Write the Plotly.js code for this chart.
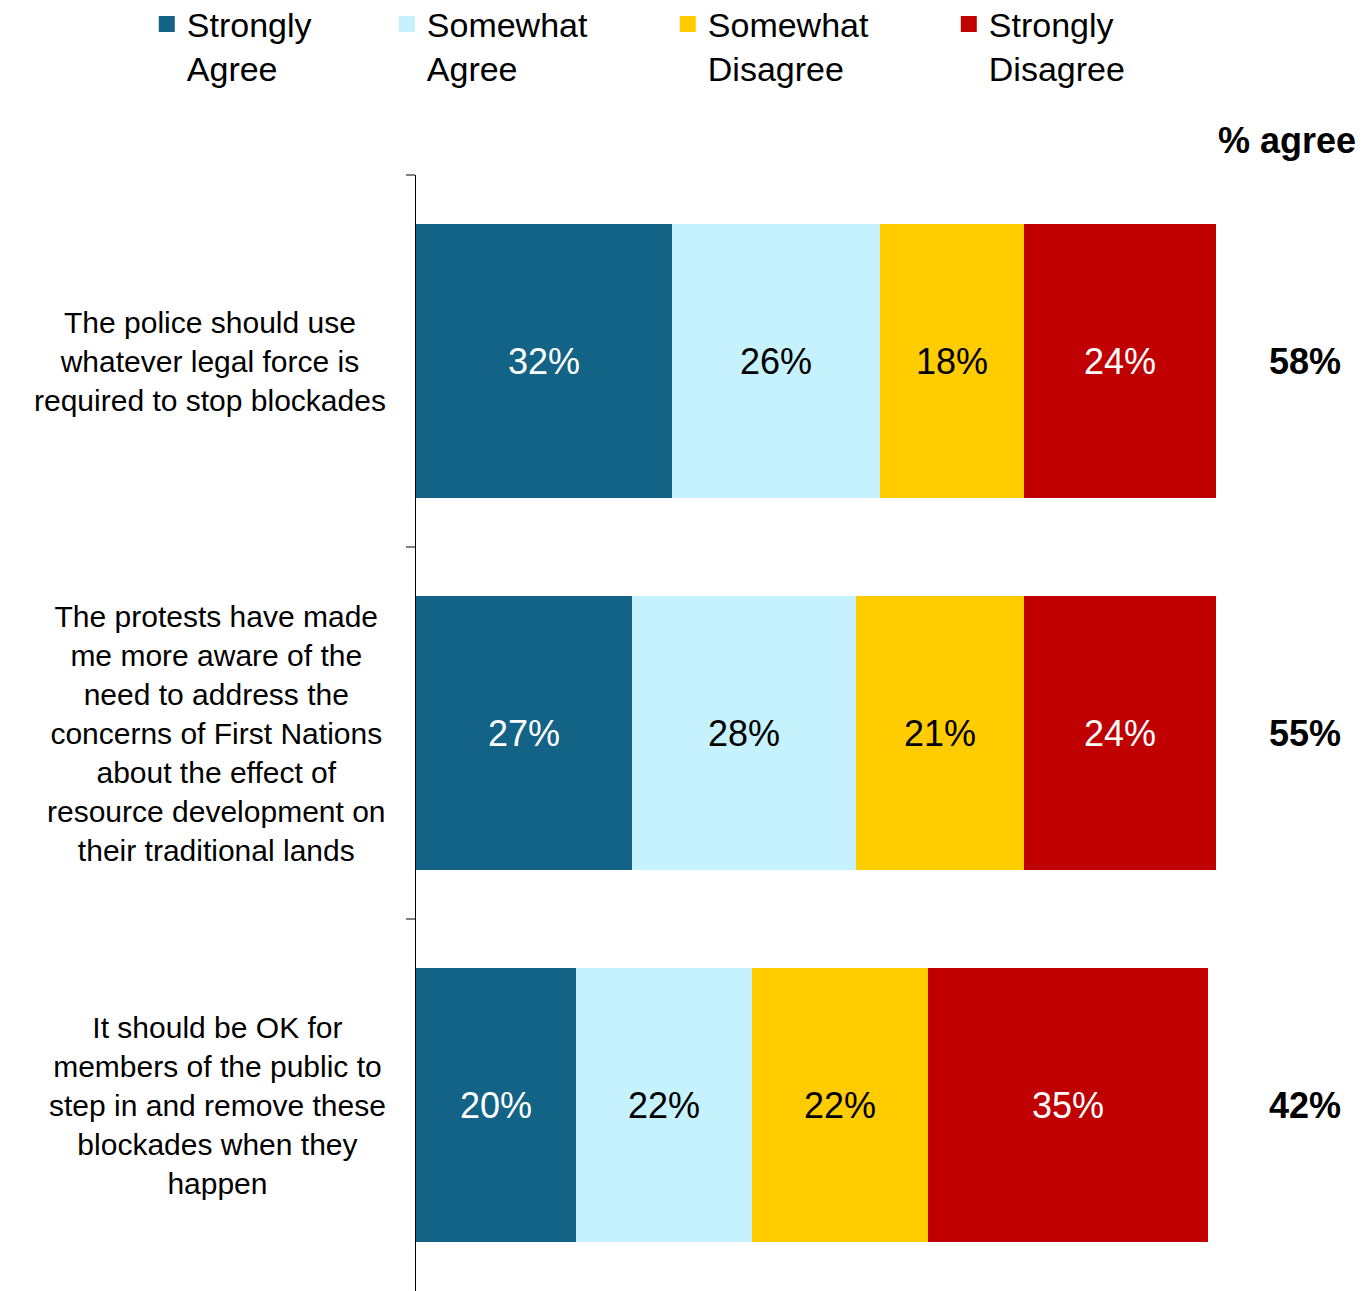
<!DOCTYPE html>
<html>
<head>
<meta charset="utf-8">
<script src="https://cdn.plot.ly/plotly-3.0.1.min.js"></script>
<style>
html,body{margin:0;padding:0;background:#fff;}
#chart{width:1363px;height:1291px;}
</style>
</head>
<body>
<div id="chart"></div>
<script>
// ---- data ----
const statements = [
  "The police should use<br>whatever legal force is<br>required to stop blockades",
  "The protests have made<br>me more aware of the<br>need to address the<br>concerns of First Nations<br>about the effect of<br>resource development on<br>their traditional lands",
  "It should be OK for<br>members of the public to<br>step in and remove these<br>blockades when they<br>happen"
];
const seriesNames = ["Strongly<br>Agree", "Somewhat<br>Agree", "Somewhat<br>Disagree", "Strongly<br>Disagree"];
const stronglyAgree = [32, 27, 20];
const somewhatAgree = [26, 28, 22];
const somewhatDisagree = [18, 21, 22];
const stronglyDisagree = [24, 24, 35];
const agreeHeader = "% agree";

const colors = ["#136386", "#C6F2FD", "#FFCC00", "#C00000"];
const textColors = ["#ffffff", "#000000", "#000000", "#ffffff"];
const legendWidths = [195, 236, 236, 236];
const FONT = "Liberation Sans, Arial, sans-serif";

const cats = ["c0", "c1", "c2"];
const allSeries = [stronglyAgree, somewhatAgree, somewhatDisagree, stronglyDisagree];

const traces = [];
allSeries.forEach((vals, i) => {
  traces.push({
    type: "bar",
    orientation: "h",
    y: cats,
    x: vals,
    name: seriesNames[i],
    showlegend: false,
    marker: {color: colors[i], line: {width: 0}},
    text: vals.map(v => v + "%"),
    textposition: "inside",
    insidetextanchor: "middle",
    textfont: {family: FONT, size: 36, color: textColors[i]},
    hoverinfo: "skip"
  });
});
// legend entries
allSeries.forEach((vals, i) => {
  traces.push({
    type: "scatter",
    mode: "markers",
    x: [null], y: [null],
    name: seriesNames[i],
    marker: {symbol: "square", size: 20, color: colors[i]},
    showlegend: true,
    legendwidth: legendWidths[i],
    hoverinfo: "skip"
  });
});

const annotations = [];
statements.forEach((s, i) => {
  annotations.push({
    xref: "paper", yref: "y",
    x: -0.035, y: cats[i],
    xanchor: "right", yanchor: "middle",
    align: "center",
    text: s, showarrow: false,
    font: {family: FONT, size: 30, color: "#000"}
  });
  annotations.push({
    xref: "paper", yref: "y",
    x: 1.111, y: cats[i],
    xanchor: "center", yanchor: "middle",
    text: "<b>" + (stronglyAgree[i] + somewhatAgree[i]) + "%</b>",
    showarrow: false,
    font: {family: FONT, size: 36, color: "#000"}
  });
});
annotations.push({
  xref: "paper", yref: "paper",
  x: 1.089, y: 1.031,
  xanchor: "center", yanchor: "middle",
  text: "<b>" + agreeHeader + "</b>", showarrow: false,
  font: {family: FONT, size: 36, color: "#000"}
});

const layout = {
  width: 1363, height: 1291,
  margin: {l: 416, r: 147, t: 175, b: 0, pad: 0, autoexpand: false},
  paper_bgcolor: "#fff", plot_bgcolor: "#fff",
  barmode: "stack",
  bargap: 0.265,
  font: {family: FONT, color: "#000"},
  xaxis: {range: [0, 100], visible: false, fixedrange: true},
  yaxis: {
    type: "category",
    autorange: "reversed",
    showticklabels: false,
    showline: true, linecolor: "#000", linewidth: 1.5,
    ticks: "outside", tickson: "boundaries", ticklen: 9, tickwidth: 2, tickcolor: "#808080",
    showgrid: false, zeroline: false, fixedrange: true
  },
  legend: {
    orientation: "h",
    traceorder: "normal",
    xref: "paper", yref: "paper",
    x: -0.3365, y: 1.161, xanchor: "left", yanchor: "top",
    valign: "top",
    itemwidth: 30,
    font: {family: FONT, size: 34, color: "#000"},
    bgcolor: "rgba(0,0,0,0)"
  },
  annotations: annotations,
  showlegend: true
};

Plotly.newPlot("chart", traces, layout, {displayModeBar: false, staticPlot: true});
</script>
</body>
</html>
